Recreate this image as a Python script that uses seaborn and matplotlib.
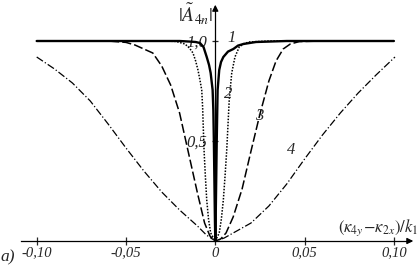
import numpy as np
import pandas as pd
import seaborn as sns
import matplotlib.pyplot as plt

sns.set_style('white')
plt.rcParams['font.family'] = ['Liberation Serif', 'DejaVu Serif']
plt.rcParams['mathtext.fontset'] = 'stix'

# curve 1 (solid)
x1 = [-0.10, -0.05, -0.02, -0.014, -0.011, -0.0086, -0.0066, -0.0048, -0.0035, -0.0026,
      -0.0015, -0.0011, -0.0008, -0.0005, -0.0002, 0.0,
      0.0002, 0.0005, 0.0008, 0.0011, 0.0013, 0.0022, 0.0032, 0.0045, 0.0071,
      0.0101, 0.0127, 0.0157, 0.0228, 0.04, 0.10]
y1 = [1.0, 1.0, 1.0, 0.997, 0.995, 0.99, 0.97, 0.92, 0.88, 0.84,
      0.755, 0.655, 0.5, 0.3, 0.1, 0.0,
      0.1, 0.3, 0.5, 0.655, 0.755, 0.855, 0.895, 0.92, 0.947,
      0.96, 0.977, 0.985, 0.995, 1.0, 1.0]

# curve 2 (dotted)
x2 = [-0.10, -0.03, -0.022, -0.017, -0.0145, -0.0125, -0.011, -0.0097, -0.0085, -0.0076,
      -0.0071, -0.0067, -0.0063, -0.0056, -0.0048, -0.0038, -0.0026, 0.0,
      0.0022, 0.0034, 0.0045, 0.0055, 0.0064, 0.0071, 0.0078, 0.0092, 0.011,
      0.0134, 0.016, 0.0189, 0.03, 0.10]
y2 = [1.0, 1.0, 0.998, 0.985, 0.965, 0.94, 0.9, 0.855, 0.8, 0.755,
      0.67, 0.56, 0.455, 0.33, 0.205, 0.11, 0.04, 0.0,
      0.04, 0.11, 0.205, 0.33, 0.455, 0.58, 0.705, 0.84, 0.92,
      0.97, 0.987, 0.995, 1.0, 1.0]

# curve 3 (dashed)
x3 = [-0.10, -0.06, -0.05, -0.045, -0.04, -0.035, -0.03, -0.025, -0.02, -0.015,
      -0.01, -0.006, -0.003, 0.0,
      0.003, 0.006, 0.01, 0.015, 0.02, 0.025, 0.03, 0.034, 0.038, 0.042, 0.047,
      0.06, 0.10]
y3 = [1.0, 1.0, 0.993, 0.98, 0.96, 0.94, 0.875, 0.78, 0.64, 0.44,
      0.24, 0.09, 0.025, 0.0,
      0.01, 0.04, 0.12, 0.26, 0.45, 0.635, 0.8, 0.9, 0.96, 0.985, 0.997,
      1.0, 1.0]

# curve 4 (dash-dot)
x4 = [-0.10, -0.09, -0.08, -0.07, -0.06, -0.05, -0.04, -0.03, -0.02, -0.01,
      -0.005, 0.0,
      0.005, 0.01, 0.02, 0.03, 0.04, 0.05, 0.06, 0.07, 0.08, 0.09, 0.1006]
y4 = [0.92, 0.86, 0.79, 0.70, 0.585, 0.465, 0.35, 0.245, 0.155, 0.075,
      0.03, 0.0,
      0.015, 0.04, 0.09, 0.175, 0.285, 0.41, 0.53, 0.64, 0.74, 0.83, 0.92]

xticks = [-0.10, -0.05, 0.0, 0.05, 0.10]
xtick_labels = ['-0,10', '-0,05', '0', '0,05', '0,10']
yticks = [0.5, 1.0]
ytick_labels = ['0,5', '1,0']

fig = plt.figure(figsize=(4.18, 2.66), dpi=100)
ax = fig.add_axes([0, 0, 1, 1])

styles = [
    (x1, y1, 1.7, '-'),
    (x2, y2, 1.1, (0, (1, 1))),
    (x3, y3, 1.1, (0, (6, 2))),
    (x4, y4, 0.9, (0, (6, 1.8, 1, 1.8))),
]
for xs, ys, lw, ls in styles:
    sns.lineplot(x=xs, y=ys, ax=ax, color='black', lw=lw, linestyle=ls,
                 sort=False, estimator=None)

# pixel mapping: x0 at 215.3px, 1786 px per unit; y0 at 241px, 200 px per unit
ax.set_xlim(-215.3 / 1786, (418 - 215.3) / 1786)
ax.set_ylim(-25 / 200, 241 / 200)

for s in ['top', 'right']:
    ax.spines[s].set_visible(False)
ax.spines['bottom'].set_position(('data', 0))
ax.spines['left'].set_position(('data', 0))
ax.spines['bottom'].set_bounds(-0.109, 0.109)
ax.spines['left'].set_bounds(0, 1.17)
for s in ['bottom', 'left']:
    ax.spines[s].set_color('black')
    ax.spines[s].set_linewidth(0.9)

ax.annotate('', xy=(0.1124, 0), xytext=(0.107, 0),
            arrowprops=dict(arrowstyle='-|>', color='black', lw=0.9, mutation_scale=9))
ax.annotate('', xy=(0, 1.195), xytext=(0, 1.15),
            arrowprops=dict(arrowstyle='-|>', color='black', lw=0.9, mutation_scale=9))

ax.set_xticks(xticks)
ax.set_xticklabels(xtick_labels, fontstyle='italic', fontsize=10.5)
ax.set_yticks(yticks)
ax.set_yticklabels(ytick_labels, fontstyle='italic', fontsize=12)
ax.tick_params(axis='x', direction='inout', length=6, width=0.9, pad=1, bottom=True)
ax.tick_params(axis='y', direction='inout', length=5, width=0.9, pad=3, left=True)
ax.set_xlabel('')
ax.set_ylabel('')
ax.grid(False)

ax.text(-0.0108, 1.135, r'$|\tilde{A}_{4п}|$', fontsize=14, ha='center', va='center')
ax.text(0.1135, 0.065, r'$(\kappa_{4y}\!-\!\kappa_{2x})/k_1$', fontsize=12,
        ha='right', va='center')
ax.text(-0.1200, -0.083, 'a)', fontsize=12.5, fontstyle='italic', ha='left', va='center')

for lab, px, py in [('1', 232, 38), ('2', 228, 94), ('3', 259, 116), ('4', 291, 150)]:
    ax.text((px - 215.3) / 1786, (241 - py) / 200, lab, fontsize=12,
            fontstyle='italic', ha='center', va='center')

fig.savefig('out.png', dpi=100)
